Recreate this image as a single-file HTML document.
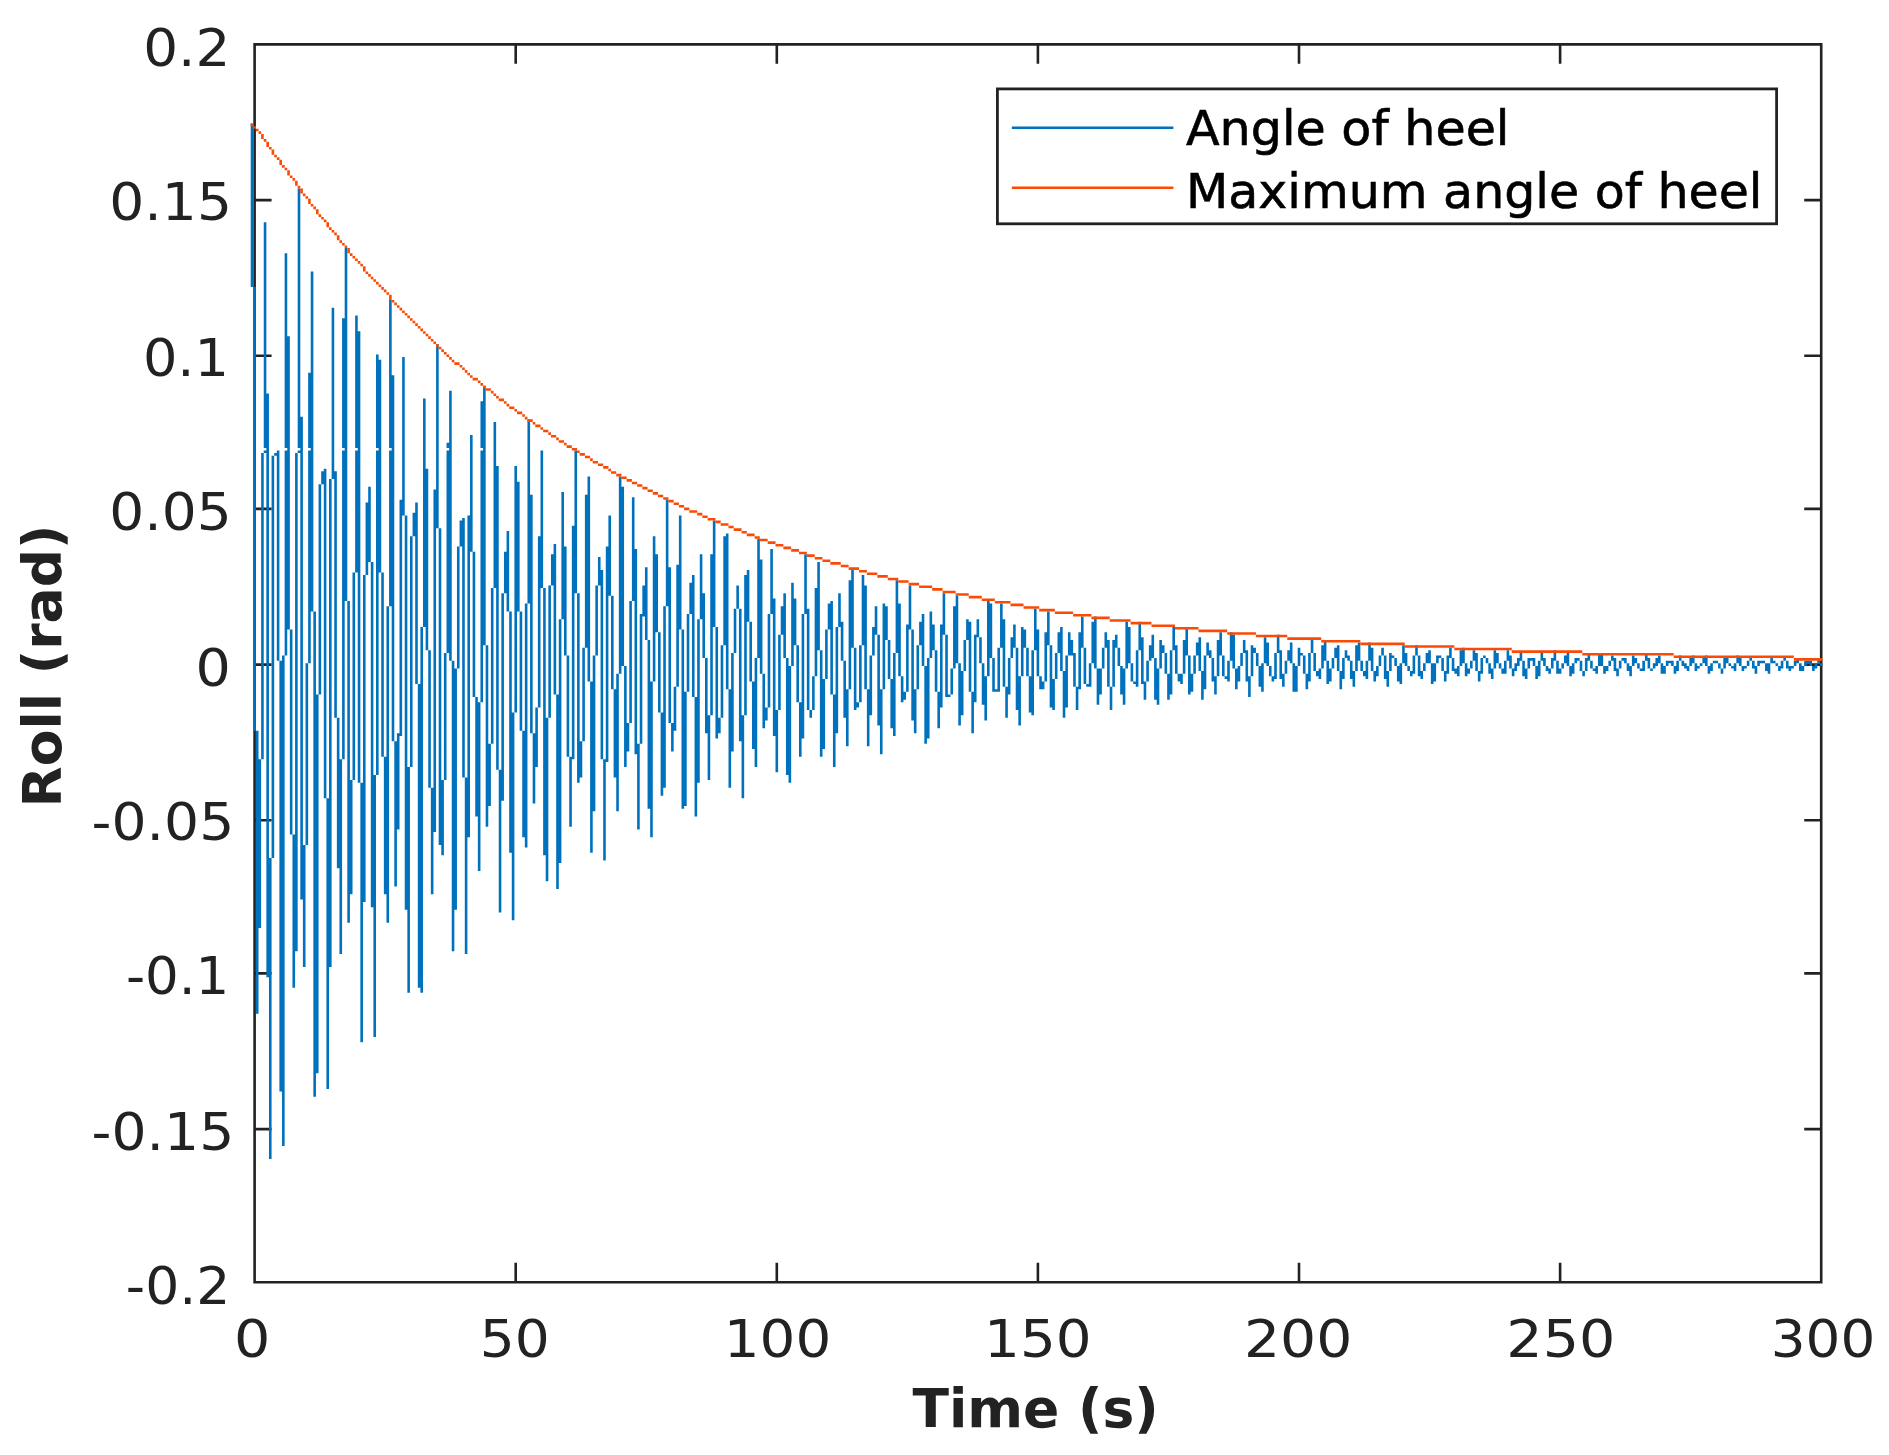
<!DOCTYPE html>
<html lang="en"><head><meta charset="utf-8"><title>Roll decay</title>
<style>html,body{margin:0;padding:0;background:#fff}svg{display:block}</style></head>
<body>
<svg width="1889" height="1455" viewBox="0 0 1889 1455">
<rect width="1889" height="1455" fill="#fff"/>
<path d="M253.3 43.1h1569.21v2.6h-1569.21zM253.3 1280.91h1569.21v2.6h-1569.21zM253.3 43.1h2.61v1240.41h-2.61zM1819.9 43.1h2.61v1240.41h-2.61zM514.4 45.7h2.61v18.17h-2.61zM514.4 1262.75h2.61v18.17h-2.61zM775.5 45.7h2.61v18.17h-2.61zM775.5 1262.75h2.61v18.17h-2.61zM1036.6 45.7h2.61v18.17h-2.61zM1036.6 1262.75h2.61v18.17h-2.61zM1297.7 45.7h2.61v18.17h-2.61zM1297.7 1262.75h2.61v18.17h-2.61zM1558.8 45.7h2.61v18.17h-2.61zM1558.8 1262.75h2.61v18.17h-2.61zM255.91 198.8h15.67v2.6h-15.67zM1804.23 198.8h15.67v2.6h-15.67zM255.91 354.5h15.67v2.6h-15.67zM1804.23 354.5h15.67v2.6h-15.67zM255.91 507.61h15.67v2.6h-15.67zM1804.23 507.61h15.67v2.6h-15.67zM255.91 663.31h15.67v2.6h-15.67zM1804.23 663.31h15.67v2.6h-15.67zM255.91 819.01h15.67v2.6h-15.67zM1804.23 819.01h15.67v2.6h-15.67zM255.91 972.11h15.67v2.6h-15.67zM1804.23 972.11h15.67v2.6h-15.67zM255.91 1127.81h15.67v2.6h-15.67zM1804.23 1127.81h15.67v2.6h-15.67z" fill="#222222"/>
<path d="M251.99 123.55V287.03M254.61 287.03V730.78M257.22 730.78V1013.63M259.83 759.32V928M262.44 453.11V759.32M265.05 222.16V447.92M265.05 450.52V453.11M267.66 393.43V977.3M270.27 857.93V1158.95M272.88 455.71V857.93M275.49 453.11V455.71M278.1 450.52V660.71M280.72 660.71V1091.48M283.33 655.52V1145.97M285.94 253.3V447.92M285.94 450.52V655.52M288.55 336.34V629.57M291.16 629.57V834.58M293.77 834.58V987.68M296.38 453.11V951.35M298.99 188.42V447.92M298.99 450.52V453.11M301.6 416.78V899.45M304.21 844.96V966.92M306.83 663.31V844.96M309.44 372.67V447.92M309.44 450.52V663.31M312.05 271.46V611.41M314.66 611.41V1096.67M317.27 694.45V1073.32M319.88 484.25V694.45M322.49 471.28V484.25M325.1 468.68V798.25M327.71 798.25V1088.88M330.32 479.06V966.92M332.94 307.79V479.06M335.55 471.28V717.8M338.16 717.8V868.31M340.77 759.32V953.95M343.38 318.17V447.92M343.38 450.52V759.32M345.99 248.11V601.03M348.6 601.03V922.81M351.21 780.08V894.26M353.82 572.48V780.08M356.43 315.58V447.92M356.43 450.52V572.48M359.05 331.15V782.68M361.66 782.68V1042.17M364.27 575.08V902.05M366.88 502.42V575.08M369.49 486.85V562.1M372.1 562.1V907.24M374.71 774.89V1036.99M377.32 354.5V447.92M377.32 450.52V774.89M379.93 359.69V572.48M382.54 572.48V756.73M385.16 756.73V894.26M387.77 606.22V922.81M390.38 300.01V447.92M390.38 450.52V606.22M392.99 375.26V741.16M395.6 741.16V886.48M398.21 733.37V829.39M400.82 499.82V735.97M403.43 357.1V515.39M406.04 515.39V909.83M408.65 767.11V992.87M411.27 536.15V767.11M413.88 512.8V536.15M416.49 502.42V684.07M419.1 684.07V987.68M421.71 626.98V992.87M424.32 398.62V626.98M426.93 468.68V650.33M429.54 650.33V787.87M432.15 787.87V894.26M434.76 489.44V831.98M437.38 344.12V528.37M439.99 528.37V844.96M442.6 780.08V855.34M445.21 652.93V780.08M447.82 442.73V447.92M447.82 450.52V652.93M450.43 390.83V660.71M453.04 660.71V951.35M455.65 668.5V909.83M458.26 546.53V668.5M460.87 520.58V546.53M463.49 517.99V777.49M466.1 777.49V953.95M468.71 515.39V837.17M471.32 434.95V551.72M473.93 551.72V697.04M476.54 697.04V816.41M479.15 702.23V870.91M481.76 401.21V447.92M481.76 450.52V702.23M484.37 385.64V645.14M486.98 645.14V826.79M489.6 743.75V806.03M492.21 588.05V743.75M494.82 421.97V588.05M497.43 466.09V769.7M500.04 769.7V912.43M502.65 593.24V800.84M505.26 551.72V593.24M507.87 530.96V611.41M510.48 611.41V852.74M513.09 712.61V920.21M515.71 466.09V712.61M518.32 481.66V611.41M520.93 611.41V730.78M523.54 730.78V837.17M526.15 603.62V847.55M528.76 419.38V603.62M531.37 494.63V733.37M533.98 733.37V803.44M536.59 707.42V767.11M539.2 536.15V707.42M541.82 450.52V588.05M544.43 588.05V855.34M547.04 717.8V881.29M549.65 585.46V717.8M552.26 554.32V585.46M554.87 543.94V694.45M557.48 694.45V889.07M560.09 619.19V863.12M562.7 492.04V619.19M565.31 546.53V655.52M567.93 655.52V756.73M570.54 756.73V826.79M573.15 525.77V759.32M575.76 450.52V593.24M578.37 593.24V782.68M580.98 741.16V777.49M583.59 647.74V741.16M586.2 494.63V647.74M588.81 476.47V681.47M591.42 681.47V852.74M594.04 655.52V811.22M596.65 585.46V655.52M599.26 556.91V585.46M601.87 569.89V759.32M604.48 759.32V860.53M607.09 546.53V761.92M609.7 515.39V595.84M612.31 595.84V689.26M614.92 689.26V777.49M617.53 673.69V811.22M620.15 476.47V673.69M622.76 486.85V665.9M625.37 665.9V767.11M627.98 722.99V751.54M630.59 601.03V722.99M633.2 497.23V601.03M635.81 549.12V754.13M638.42 743.75V829.39M641.03 614V743.75M643.64 585.46V616.6M646.26 567.29V639.95M648.87 639.95V808.63M651.48 681.47V837.17M654.09 536.15V681.47M656.7 554.32V632.17M659.31 632.17V712.61M661.92 712.61V795.65M664.53 606.22V787.87M667.14 499.82V606.22M669.75 567.29V722.99M672.37 722.99V751.54M674.98 686.66V730.78M677.59 564.7V686.66M680.2 515.39V629.57M682.81 629.57V808.63M685.42 691.85V806.03M688.03 614V691.85M690.64 582.86V614M693.25 575.08V697.04M695.86 697.04V816.41M698.48 619.19V782.68M701.09 554.32V619.19M703.7 593.24V658.12M706.31 658.12V733.37M708.92 715.21V780.08M711.53 554.32V715.21M714.14 520.58V626.98M716.75 626.98V738.56M719.36 717.8V733.37M721.97 645.14V717.8M724.59 536.15V645.14M727.2 533.56V689.26M729.81 689.26V787.87M732.42 652.93V751.54M735.03 608.81V652.93M737.64 585.46V608.81M740.25 608.81V741.16M742.86 715.21V798.25M745.47 575.08V715.21M748.08 569.89V621.79M750.7 621.79V681.47M753.31 681.47V748.94M755.92 658.12V767.11M758.53 538.75V658.12M761.14 559.51V673.69M763.75 673.69V728.18M766.36 707.42V720.4M768.97 614V707.42M771.58 549.12V614M774.19 598.43V735.97M776.81 710.02V772.3M779.42 634.76V710.02M782.03 606.22V634.76M784.64 593.24V658.12M787.25 658.12V774.89M789.86 665.9V782.68M792.47 582.86V665.9M795.08 598.43V645.14M797.69 645.14V702.23M800.3 702.23V756.73M802.92 614V738.56M805.53 554.32V614M808.14 608.81V710.02M810.75 710.02V717.8M813.36 676.28V710.02M815.97 588.05V676.28M818.58 562.1V650.33M821.19 650.33V756.73M823.8 678.88V748.94M826.41 629.57V678.88M829.03 603.62V629.57M831.64 601.03V694.45M834.25 694.45V767.11M836.86 626.98V733.37M839.47 593.24V626.98M842.08 621.79V660.71M844.69 660.71V717.8M847.3 689.26V746.35M849.91 580.27V689.26M852.52 569.89V647.74M855.14 647.74V710.02M857.75 702.23V707.42M860.36 645.14V702.23M862.97 575.08V645.14M865.58 585.46V689.26M868.19 689.26V746.35M870.8 655.52V715.21M873.41 626.98V655.52M876.02 606.22V634.76M878.63 634.76V725.59M881.25 689.26V754.13M883.86 603.62V689.26M886.47 606.22V639.95M889.08 639.95V678.88M891.69 678.88V728.18M894.3 652.93V735.97M896.91 580.27V652.93M899.52 603.62V676.28M902.13 676.28V702.23M904.74 691.85V699.64M907.36 624.38V691.85M909.97 585.46V629.57M912.58 629.57V720.4M915.19 689.26V733.37M917.8 645.14V689.26M920.41 621.79V645.14M923.02 614V665.9M925.63 665.9V743.75M928.24 658.12V738.56M930.85 611.41V658.12M933.47 624.38V650.33M936.08 650.33V691.85M938.69 691.85V728.18M941.3 624.38V707.42M943.91 593.24V634.76M946.52 634.76V697.04M949.13 694.45V697.04M951.74 668.5V694.45M954.35 606.22V668.5M956.96 595.84V663.31M959.58 663.31V725.59M962.19 671.09V715.21M964.8 639.95V671.09M967.41 619.19V639.95M970.02 621.79V691.85M972.63 691.85V733.37M975.24 634.76V702.23M977.85 619.19V637.36M980.46 637.36V663.31M983.07 663.31V704.83M985.69 676.28V720.4M988.3 601.03V676.28M990.91 603.62V658.12M993.52 658.12V691.85M996.13 689.26V691.85M998.74 647.74V691.85M1001.35 603.62V647.74M1003.96 619.19V686.66M1006.57 686.66V717.8M1009.18 658.12V694.45M1011.8 637.36V658.12M1014.41 624.38V647.74M1017.02 647.74V710.02M1019.63 676.28V725.59M1022.24 626.98V676.28M1024.85 629.57V647.74M1027.46 647.74V676.28M1030.07 676.28V712.61M1032.68 650.33V715.21M1035.29 608.81V650.33M1037.91 629.57V676.28M1040.52 676.28V689.26M1043.13 681.47V689.26M1045.74 632.17V681.47M1048.35 611.41V645.14M1050.96 645.14V707.42M1053.57 678.88V710.02M1056.18 652.93V678.88M1058.79 632.17V652.93M1061.4 626.98V671.09M1064.02 671.09V717.8M1066.63 655.52V707.42M1069.24 632.17V655.52M1071.85 639.95V655.52M1074.46 652.93V686.66M1077.07 686.66V710.02M1079.68 632.17V689.26M1082.29 616.6V647.74M1084.9 647.74V684.07M1087.51 684.07V686.66M1090.13 663.31V686.66M1092.74 621.79V663.31M1095.35 616.6V668.5M1097.96 668.5V704.83M1100.57 668.5V694.45M1103.18 647.74V668.5M1105.79 632.17V647.74M1108.4 639.95V686.66M1111.01 686.66V710.02M1113.62 639.95V686.66M1116.24 634.76V647.74M1118.85 647.74V665.9M1121.46 665.9V694.45M1124.07 668.5V704.83M1126.68 621.79V668.5M1129.29 626.98V663.31M1131.9 663.31V681.47M1134.51 681.47V684.07M1137.12 650.33V686.66M1139.73 621.79V650.33M1142.35 637.36V684.07M1144.96 681.47V699.64M1147.57 660.71V681.47M1150.18 645.14V660.71M1152.79 634.76V658.12M1155.4 658.12V699.64M1158.01 668.5V704.83M1160.62 639.95V668.5M1163.23 645.14V652.93M1165.84 652.93V673.69M1168.46 673.69V699.64M1171.07 650.33V694.45M1173.68 626.98V650.33M1176.29 645.14V673.69M1178.9 673.69V681.47M1181.51 673.69V684.07M1184.12 639.95V673.69M1186.73 626.98V655.52M1189.34 655.52V694.45M1191.95 673.69V691.85M1194.57 655.52V673.69M1197.18 642.55V655.52M1199.79 637.36V671.09M1202.4 671.09V699.64M1205.01 655.52V689.26M1207.62 642.55V655.52M1210.23 650.33V658.12M1212.84 658.12V681.47M1215.45 676.28V694.45M1218.06 639.95V676.28M1220.68 632.17V655.52M1223.29 655.52V676.28M1225.9 676.28V678.88M1228.51 660.71V681.47M1231.12 632.17V660.71M1233.73 634.76V668.5M1236.34 668.5V689.26M1238.95 665.9V681.47M1241.56 652.93V665.9M1244.17 639.95V652.93M1246.79 650.33V681.47M1249.4 676.28V697.04M1252.01 645.14V676.28M1254.62 647.74V652.93M1257.23 652.93V665.9M1259.84 665.9V686.66M1262.45 663.31V691.85M1265.06 637.36V663.31M1267.67 642.55V665.9M1270.28 665.9V676.28M1272.9 676.28V681.47M1275.51 652.93V678.88M1278.12 634.76V652.93M1280.73 650.33V678.88M1283.34 673.69V686.66M1285.95 660.71V673.69M1288.56 650.33V660.71M1291.17 642.55V663.31M1293.78 663.31V691.85M1296.39 665.9V691.85M1299.01 647.74V665.9M1301.62 652.93V655.52M1304.23 655.52V673.69M1306.84 673.69V689.26M1309.45 652.93V681.47M1312.06 639.95V652.93M1314.67 652.93V671.09M1317.28 671.09V676.28M1319.89 668.5V678.88M1322.5 645.14V668.5M1325.12 639.95V660.71M1327.73 660.71V684.07M1330.34 668.5V681.47M1332.95 658.12V668.5M1335.56 647.74V658.12M1338.17 645.14V671.09M1340.78 671.09V689.26M1343.39 658.12V678.88M1346 650.33V658.12M1348.61 655.52V660.71M1351.23 660.71V678.88M1353.84 671.09V686.66M1356.45 645.14V671.09M1359.06 642.55V660.71M1361.67 660.71V671.09M1364.28 671.09V676.28M1366.89 660.71V678.88M1369.5 642.55V660.71M1372.11 647.74V671.09M1374.72 671.09V681.47M1377.34 665.9V676.28M1379.95 655.52V665.9M1382.56 647.74V655.52M1385.17 655.52V678.88M1387.78 671.09V686.66M1390.39 652.93V671.09M1393 655.52V658.12M1395.61 658.12V665.9M1398.22 665.9V681.47M1400.83 663.31V684.07M1403.45 645.14V663.31M1406.06 652.93V665.9M1408.67 665.9V671.09M1411.28 671.09V676.28M1413.89 655.52V673.69M1416.5 645.14V655.52M1419.11 655.52V676.28M1421.72 671.09V678.88M1424.33 663.31V671.09M1426.94 652.93V663.31M1429.56 650.33V663.31M1432.17 663.31V684.07M1434.78 663.31V681.47M1437.39 655.52V663.31M1440 655.52V658.12M1442.61 658.12V671.09M1445.22 671.09V681.47M1447.83 655.52V673.69M1450.44 647.74V658.12M1453.05 658.12V671.09M1455.67 668.5V673.69M1458.28 665.9V676.28M1460.89 650.33V665.9M1463.5 647.74V663.31M1466.11 663.31V676.28M1468.72 668.5V673.69M1471.33 660.71V668.5M1473.94 650.33V660.71M1476.55 652.93V671.09M1479.16 671.09V681.47M1481.78 658.12V673.69M1484.39 655.52V658.12M1487 658.12V663.31M1489.61 663.31V673.69M1492.22 668.5V678.88M1494.83 650.33V668.5M1497.44 652.93V663.31M1500.05 663.31V668.5M1502.66 668.5V673.69M1505.27 660.71V673.69M1507.89 650.33V660.71M1510.5 655.52V668.5M1513.11 668.5V676.28M1515.72 663.31V671.09M1518.33 658.12V665.9M1520.94 652.93V660.71M1523.55 660.71V676.28M1526.16 668.5V678.88M1528.77 658.12V668.5M1531.38 658.12V660.71M1534 658.12V665.9M1536.61 665.9V678.88M1539.22 660.71V676.28M1541.83 652.93V660.71M1544.44 658.12V665.9M1547.05 665.9V671.09M1549.66 668.5V673.69M1552.27 658.12V668.5M1554.88 650.33V660.71M1557.49 660.71V673.69M1560.11 668.5V673.69M1562.72 663.31V668.5M1565.33 655.52V663.31M1567.94 652.93V665.9M1570.55 665.9V676.28M1573.16 663.31V673.69M1575.77 658.12V663.31M1578.38 658.12V660.71M1580.99 660.71V671.09M1583.6 671.09V676.28M1586.22 658.12V671.09M1588.83 652.93V660.71M1591.44 660.71V668.5M1594.05 668.5V671.09M1596.66 665.9V673.69M1599.27 652.93V665.9M1601.88 652.93V665.9M1604.49 665.9V673.69M1607.1 665.9V671.09M1609.71 660.71V665.9M1612.33 655.52V660.71M1614.94 658.12V671.09M1617.55 668.5V676.28M1620.16 660.71V668.5M1622.77 658.12V660.71M1625.38 658.12V663.31M1627.99 663.31V671.09M1630.6 665.9V676.28M1633.21 655.52V665.9M1635.82 658.12V663.31M1638.44 663.31V668.5M1641.05 668.5V671.09M1643.66 660.71V671.09M1646.27 652.93V660.71M1648.88 658.12V668.5M1651.49 668.5V671.09M1654.1 663.31V668.5M1656.71 658.12V665.9M1659.32 655.52V663.31M1661.93 663.31V673.69M1664.55 665.9V673.69M1667.16 660.71V665.9M1669.77 660.71V663.31M1672.38 660.71V665.9M1674.99 665.9V673.69M1677.6 660.71V671.09M1680.21 655.52V660.71M1682.82 660.71V665.9M1685.43 663.31V668.5M1688.04 665.9V671.09M1690.66 658.12V665.9M1693.27 655.52V663.31M1695.88 663.31V671.09M1698.49 665.9V668.5M1701.1 663.31V665.9M1703.71 658.12V663.31M1706.32 655.52V665.9M1708.93 665.9V673.69M1711.54 663.31V671.09M1714.15 660.71V663.31M1716.77 660.71V663.31M1719.38 663.31V668.5M1721.99 668.5V673.69M1724.6 658.12V668.5M1727.21 658.12V663.31M1729.82 663.31V665.9M1732.43 665.9V668.5M1735.04 663.31V671.09M1737.65 655.52V663.31M1740.26 658.12V665.9M1742.88 665.9V671.09M1745.49 665.9V668.5M1748.1 660.71V665.9M1750.71 658.12V660.71M1753.32 660.71V668.5M1755.93 665.9V673.69M1758.54 660.71V665.9M1761.15 660.71V663.31M1763.76 660.71V663.31M1766.37 663.31V671.09M1768.99 663.31V673.69M1771.6 658.12V663.31M1774.21 660.71V663.31M1776.82 663.31V665.9M1779.43 665.9V671.09M1782.04 660.71V668.5M1784.65 658.12V660.71M1787.26 660.71V668.5M1789.87 665.9V671.09M1792.48 665.9V668.5M1795.1 660.71V665.9M1797.71 658.12V663.31M1800.32 663.31V671.09M1802.93 665.9V671.09M1805.54 660.71V665.9M1808.15 660.71V663.31M1810.76 660.71V665.9M1813.37 665.9V671.09M1815.98 663.31V668.5M1818.59 658.12V663.31M1821.21 663.31V665.9" stroke="#0072BD" stroke-width="2.61" fill="none"/>
<path d="M250.69 124.84H253.3M253.3 127.44H255.91M255.91 130.03H258.52M258.52 132.63H261.13M261.13 135.22H263.74M261.13 137.82H263.74M263.74 140.41H266.36M266.36 143.01H268.97M266.36 145.6H268.97M268.97 148.2H271.58M271.58 150.79H274.19M271.58 153.39H274.19M274.19 155.98H276.8M276.8 158.58H279.41M279.41 161.17H282.02M279.41 163.77H282.02M282.02 166.36H284.63M284.63 168.96H287.24M287.24 171.55H289.85M287.24 174.15H289.85M289.85 176.74H292.47M292.47 179.34H295.08M295.08 181.93H297.69M295.08 184.53H297.69M297.69 187.12H300.3M300.3 189.72H302.91M300.3 192.31H302.91M302.91 194.91H305.52M305.52 197.5H308.13M308.13 200.1H310.74M308.13 202.69H310.74M310.74 205.29H313.35M313.35 207.88H315.96M315.96 210.48H318.58M315.96 213.07H318.58M318.58 215.67H321.19M321.19 218.26H323.8M323.8 220.86H326.41M326.41 223.45H329.02M326.41 226.05H329.02M329.02 228.64H331.63M331.63 231.24H334.24M334.24 233.83H336.85M336.85 236.43H339.46M336.85 239.02H339.46M339.46 241.62H342.07M342.07 244.21H344.69M344.69 246.81H347.3M347.3 249.4H349.91M347.3 252H349.91M349.91 254.59H352.52M352.52 257.19H355.13M355.13 259.78H357.74M357.74 262.38H360.35M360.35 264.97H362.96M362.96 267.57H365.57M362.96 270.16H365.57M365.57 272.76H368.18M368.18 275.35H370.8M370.8 277.95H373.41M373.41 280.54H376.02M376.02 283.14H378.63M378.63 285.73H381.24M381.24 288.33H383.85M383.85 290.92H386.46M386.46 293.52H389.07M389.07 296.11H391.68M389.07 298.71H391.68M391.68 301.3H394.29M394.29 303.9H396.91M396.91 306.49H399.52M399.52 309.09H402.13M402.13 311.68H404.74M404.74 314.28H407.35M407.35 316.87H409.96M409.96 319.47H412.57M412.57 322.06H415.18M415.18 324.66H417.79M417.79 327.25H420.4M420.4 329.85H423.01M423.01 332.44H425.63M425.63 335.04H428.24M428.24 337.63H430.85M430.85 340.23H433.46M433.46 342.82H436.07M436.07 345.42H438.68M438.68 348.01H441.29M441.29 350.61H443.9M443.9 353.2H446.51M446.51 355.8H449.12M449.12 358.39H451.74M451.74 360.99H454.35M454.35 363.58H459.57M459.57 366.18H462.18M462.18 368.77H464.79M464.79 371.37H467.4M467.4 373.96H470.01M470.01 376.56H472.62M472.62 379.15H477.85M477.85 381.75H480.46M480.46 384.34H483.07M483.07 386.94H485.68M485.68 389.53H490.9M490.9 392.13H493.51M493.51 394.72H496.12M496.12 397.32H498.73M498.73 399.91H503.96M503.96 402.51H506.57M506.57 405.1H509.18M509.18 407.7H514.4M514.4 410.29H517.01M517.01 412.89H522.23M522.23 415.48H524.84M524.84 418.08H527.46M527.46 420.67H532.68M532.68 423.27H535.29M535.29 425.86H540.51M540.51 428.46H543.12M543.12 431.05H548.34M548.34 433.65H550.95M550.95 436.24H556.18M556.18 438.84H558.79M558.79 441.43H564.01M564.01 444.03H566.62M566.62 446.62H571.84M571.84 449.22H577.06M577.06 451.81H579.67M579.67 454.41H584.9M584.9 457H590.12M590.12 459.6H592.73M592.73 462.19H597.95M597.95 464.79H603.17M603.17 467.38H608.4M608.4 469.98H611.01M611.01 472.57H616.23M616.23 475.17H621.45M621.45 477.76H626.67M626.67 480.36H631.89M631.89 482.95H637.12M637.12 485.55H642.34M642.34 488.14H647.56M647.56 490.74H652.78M652.78 493.33H658.01M658.01 495.93H663.23M663.23 498.52H668.45M668.45 501.12H673.67M673.67 503.71H678.89M678.89 506.31H684.12M684.12 508.9H689.34M689.34 511.5H697.17M697.17 514.09H702.39M702.39 516.69H707.61M707.61 519.28H715.45M715.45 521.88H720.67M720.67 524.47H728.5M728.5 527.07H733.72M733.72 529.66H741.56M741.56 532.26H746.78M746.78 534.85H754.61M754.61 537.45H759.83M759.83 540.04H767.67M767.67 542.64H775.5M775.5 545.23H783.33M783.33 547.83H791.17M791.17 550.42H799M799 553.02H806.83M806.83 555.61H814.66M814.66 558.21H822.5M822.5 560.8H830.33M830.33 563.4H840.78M840.78 565.99H848.61M848.61 568.59H859.05M859.05 571.18H866.88M866.88 573.78H877.33M877.33 576.37H887.77M887.77 578.97H898.22M898.22 581.56H908.66M908.66 584.16H919.11M919.11 586.75H932.16M932.16 589.35H942.6M942.6 591.94H955.66M955.66 594.54H968.71M968.71 597.13H981.77M981.77 599.73H994.82M994.82 602.32H1010.49M1010.49 604.92H1023.55M1023.55 607.51H1039.21M1039.21 610.11H1054.88M1054.88 612.7H1073.15M1073.15 615.3H1091.43M1091.43 617.89H1109.71M1109.71 620.49H1130.6M1130.6 623.08H1151.48M1151.48 625.68H1174.98M1174.98 628.27H1198.48M1198.48 630.87H1227.2M1227.2 633.46H1255.92M1255.92 636.06H1287.26M1287.26 638.65H1321.2M1321.2 641.25H1360.36M1360.36 643.84H1404.75M1404.75 646.44H1454.36M1454.36 649.03H1511.8M1511.8 651.63H1582.3M1582.3 654.22H1673.68M1673.68 656.82H1793.79M1793.79 659.41H1822.51" stroke="#FB4A05" stroke-width="2.6" fill="none"/>
<g font-family="'DejaVu Sans', 'Liberation Sans', sans-serif" font-size="51.5" fill="#222222">
<text transform="translate(143.16,65.9) scale(1.064,1)">0.2</text>
<text transform="translate(109.34,219.5) scale(1.069,1)">0.15</text>
<text transform="translate(142.9,376.05) scale(1.052,1)">0.1</text>
<text transform="translate(109.35,529.85) scale(1.067,1)">0.05</text>
<text transform="translate(195.41,686.35) scale(1.078,1)">0</text>
<text transform="translate(91.59,839.8) scale(1.071,1)">-0.05</text>
<text transform="translate(125.89,994.2) scale(1.030,1)">-0.1</text>
<text transform="translate(91.59,1150.1) scale(1.071,1)">-0.15</text>
<text transform="translate(125.87,1304.1) scale(1.040,1)">-0.2</text>
<text transform="translate(233.88,1356.5) scale(1.110,1)">0</text>
<text transform="translate(479.73,1356.5) scale(1.068,1)">50</text>
<text transform="translate(723.71,1356.5) scale(1.094,1)">100</text>
<text transform="translate(984.11,1356.5) scale(1.094,1)">150</text>
<text transform="translate(1243.9,1356.5) scale(1.103,1)">200</text>
<text transform="translate(1506.35,1356.5) scale(1.110,1)">250</text>
<text transform="translate(1770.73,1356.5) scale(1.064,1)">300</text>
</g>
<g font-family="'DejaVu Sans', 'Liberation Sans', sans-serif" font-weight="bold" font-size="53.5" fill="#222222">
<text x="1035.6" y="1427" text-anchor="middle">Time (s)</text>
<text transform="translate(60.5,666) rotate(-90)" text-anchor="middle">Roll (rad)</text>
</g>
<rect x="997.4" y="88.9" width="779.2" height="134.9" fill="#fff" stroke="#222222" stroke-width="2.8"/>
<path d="M1011.8 127.8H1173.4" stroke="#0072BD" stroke-width="2.6"/>
<path d="M1011.8 187.7H1173.4" stroke="#FB4A05" stroke-width="2.6"/>
<g font-family="'DejaVu Sans', 'Liberation Sans', sans-serif" font-size="48.5" fill="#000" stroke="#000" stroke-width="0.6">
<text transform="translate(1186,145) scale(1.013,1)">Angle of heel</text>
<text transform="translate(1186,208) scale(1.011,1)">Maximum angle of heel</text>
</g>
</svg>
</body></html>
